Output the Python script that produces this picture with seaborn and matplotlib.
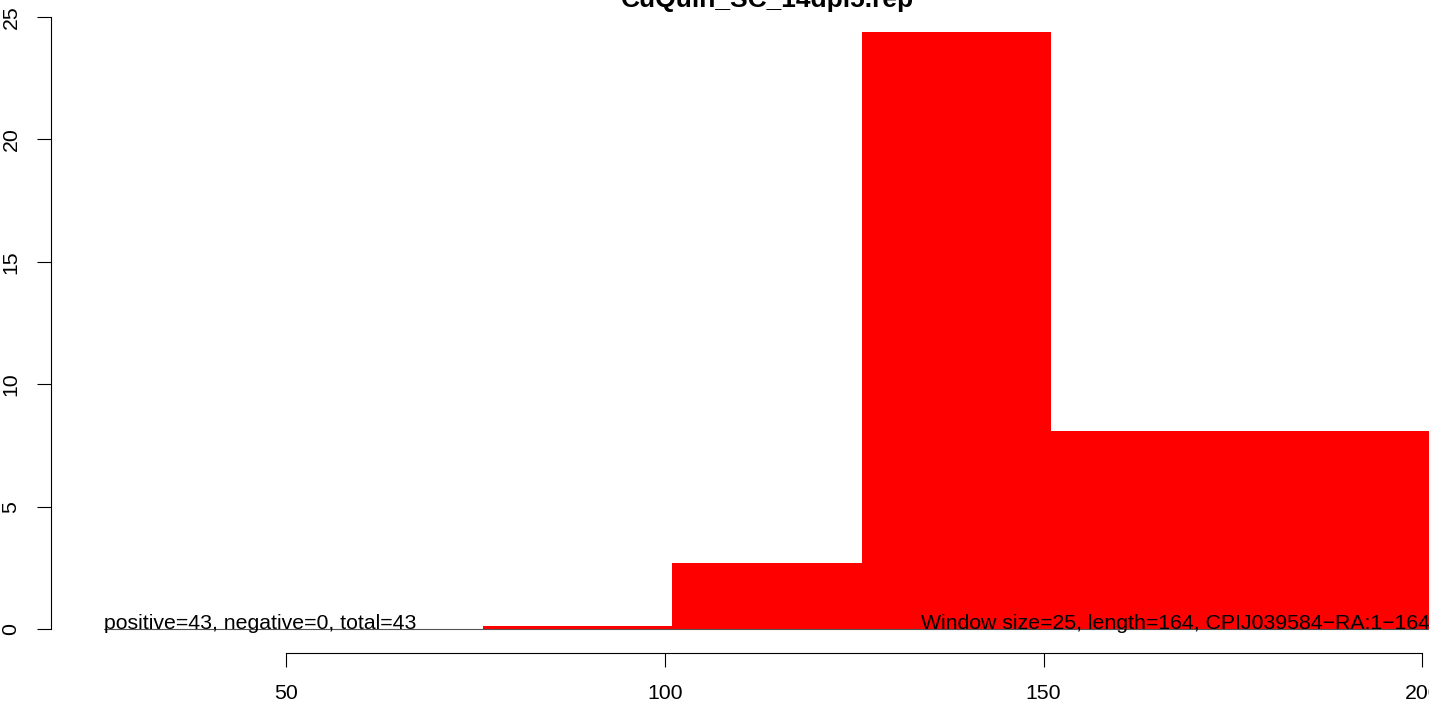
import numpy as np
import pandas as pd
import seaborn as sns
import matplotlib.pyplot as plt

# window edges and per-window values
edges = [26, 51, 76, 101, 126, 151, 176, 201]
heights = [0, 0, 0.12, 2.7, 24.4, 8.1, 8.1]
x_ticks = [50, 100, 150, 200]
y_ticks = [0, 5, 10, 15, 20, 25]
title = "CuQuin_SC_14dpi5.rep"
left_note = "positive=43, negative=0, total=43"
right_note = "Window size=25, length=164, CPIJ039584\u2212RA:1\u2212164"

sns.set_style("white")
plt.rcParams['font.family'] = ['Liberation Sans', 'DejaVu Sans']
plt.rcParams['text.color'] = 'black'
plt.rcParams['xtick.color'] = 'black'
plt.rcParams['ytick.color'] = 'black'
plt.rcParams['axes.labelcolor'] = 'black'

centers = [(a + b) / 2 for a, b in zip(edges[:-1], edges[1:])]
df = pd.DataFrame({'pos': centers, 'value': heights})

W, H = 1429, 701
fig = plt.figure(figsize=(W / 100, H / 100), dpi=100)
ax = fig.add_axes([51 / W, 48 / H, 1432 / W, 645.3 / H])

sns.histplot(data=df, x='pos', weights='value', bins=edges, color='red',
             alpha=1, linewidth=0, edgecolor='none', ax=ax)
ax.plot([edges[0], edges[-1]], [0, 0], color='#555555', lw=0.8, zorder=5)

ax.set_xlim(19, 208)
ax.set_ylim(-0.976, 25.38)
ax.set_xlabel('')
ax.set_ylabel('')

for s in ['top', 'right']:
    ax.spines[s].set_visible(False)
for s in ['left', 'bottom']:
    ax.spines[s].set_linewidth(0.8)
    ax.spines[s].set_color('black')
ax.spines['left'].set_bounds(y_ticks[0], y_ticks[-1])
ax.spines['bottom'].set_bounds(x_ticks[0], x_ticks[-1])

ax.set_xticks(x_ticks)
ax.set_yticks(y_ticks)
ax.set_yticklabels([str(v) for v in y_ticks], rotation=90, va='center')
ax.tick_params(axis='both', direction='out', length=10, width=0.8,
               color='black', labelcolor='black', labelsize=15.3,
               left=True, bottom=True)
ax.tick_params(axis='x', pad=12)
ax.tick_params(axis='y', pad=12)

ax.text(edges[0], 0, left_note, ha='left', va='baseline', fontsize=15.3,
        color='black', zorder=6)
ax.text(edges[-1], 0, right_note, ha='right', va='baseline', fontsize=15.3,
        color='black', zorder=6)

fig.text((51 + 1483) / 2 / W, 1 - 7 / H, title, ha='center', va='baseline',
         fontsize=19, fontweight='bold', color='black')

fig.savefig('out.png', dpi=100)
